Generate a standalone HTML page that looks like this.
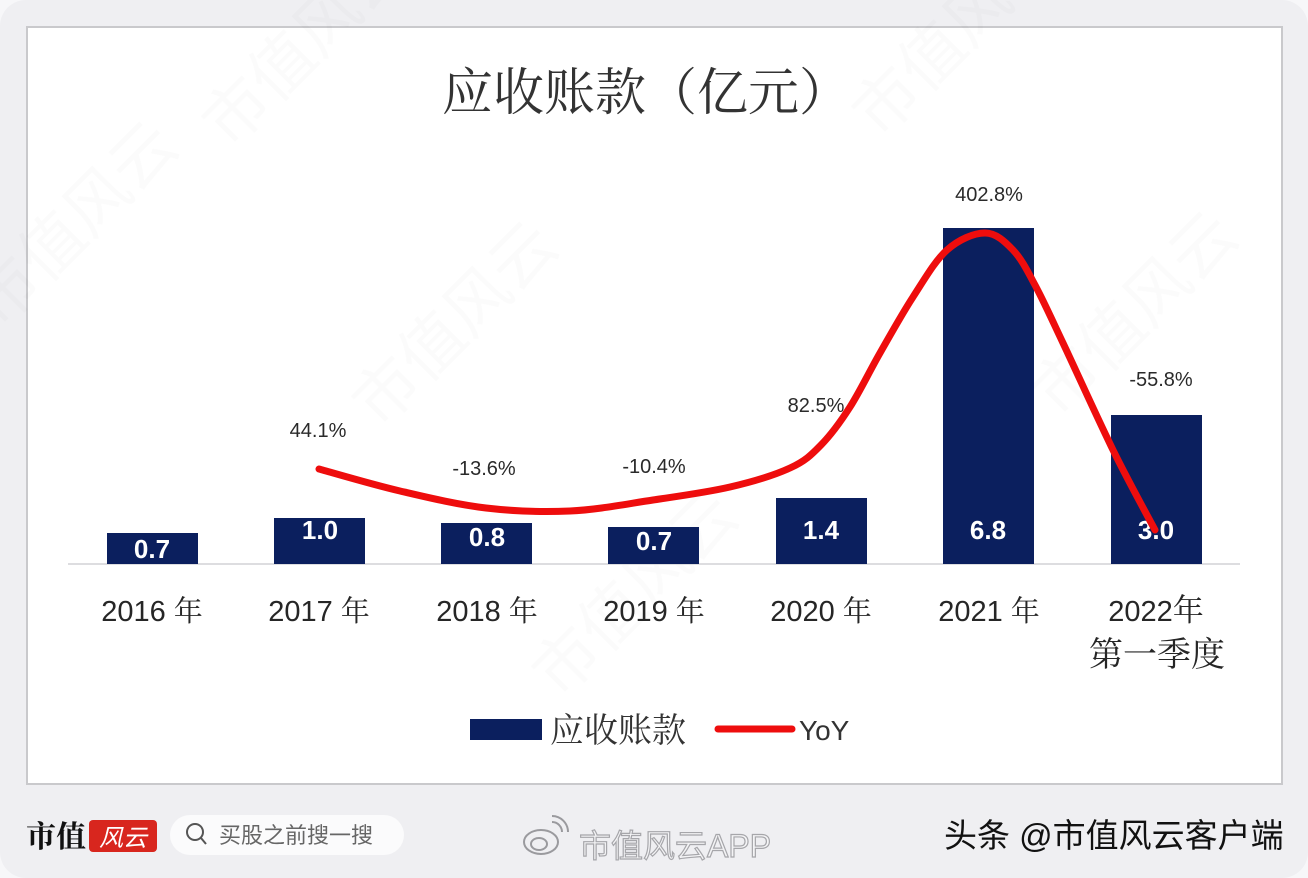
<!DOCTYPE html>
<html>
<head>
<meta charset="utf-8">
<style>
  html,body{margin:0;padding:0;background:#f4f4f6;}
  body{width:1308px;height:878px;overflow:hidden;position:relative;}
  svg{position:absolute;left:0;top:0;}
</style>
</head>
<body>
<svg width="1308" height="878" viewBox="0 0 1308 878" xmlns="http://www.w3.org/2000/svg">
  <!-- outer card -->
  <rect x="0" y="0" width="1308" height="878" fill="#f7f7f9"/>
  <rect x="0" y="0" width="1308" height="878" rx="26" ry="26" fill="#efeff2"/>
  <!-- chart panel -->
  <rect x="27" y="27" width="1255" height="757" fill="#ffffff" stroke="#c9c9cc" stroke-width="2"/>

  <!-- faint watermarks -->
  <g fill="#000" opacity="0.018" font-family="'Liberation Sans','Noto Sans CJK SC',sans-serif" font-size="64">
    <text transform="translate(230,150) rotate(-45)">市值风云</text>
    <text transform="translate(880,140) rotate(-45)">市值风云</text>
    <text transform="translate(380,430) rotate(-45)">市值风云</text>
    <text transform="translate(1060,420) rotate(-45)">市值风云</text>
    <text transform="translate(0,330) rotate(-45)">市值风云</text>
    <text transform="translate(560,700) rotate(-45)">市值风云</text>
  </g>

  <!-- title -->
  <text x="646" y="110" text-anchor="middle" font-family="'Liberation Serif','Noto Serif CJK SC',serif" font-size="51" fill="#333">应收账款（亿元）</text>

  <!-- axis line -->
  <line x1="68" y1="564" x2="1240" y2="564" stroke="#d2d2d6" stroke-width="1.6"/>

  <!-- bars -->
  <g fill="#0b1f5e">
    <rect x="107" y="533" width="91" height="31"/>
    <rect x="274" y="518" width="91" height="46"/>
    <rect x="441" y="523" width="91" height="41"/>
    <rect x="608" y="527" width="91" height="37"/>
    <rect x="776" y="498" width="91" height="66"/>
    <rect x="943" y="228" width="91" height="336"/>
    <rect x="1111" y="415" width="91" height="149"/>
  </g>

  <!-- bar values -->
  <g fill="#ffffff" font-family="'Liberation Sans',sans-serif" font-weight="bold" font-size="26" text-anchor="middle">
    <text x="152" y="558">0.7</text>
    <text x="320" y="539">1.0</text>
    <text x="487" y="546">0.8</text>
    <text x="654" y="550">0.7</text>
    <text x="821" y="539">1.4</text>
    <text x="988" y="539">6.8</text>
    <text x="1156" y="539">3.0</text>
  </g>

  <!-- YoY curve -->
  <path d="M319,469
           C332.5,472.7 372.2,484.5 400,491
           C427.8,497.5 457.7,504.7 486,508
           C514.3,511.3 542.2,512.3 570,511
           C597.8,509.7 626.3,504 653,500
           C679.7,496 707.2,492.3 730,487
           C752.8,481.7 774.8,475 790,468
           C805.2,461 811,455.2 821,445
           C831,434.8 840.2,422.3 850,407
           C859.8,391.7 869.5,371.3 880,353
           C890.5,334.7 901.8,314.2 913,297
           C924.2,279.8 935,260.7 947,250
           C959,239.3 974,233 985,233
           C996,233 1004.7,241.3 1013,250
           C1021.3,258.7 1026.7,269.5 1035,285
           C1043.3,300.5 1050,315.5 1063,343
           C1076,370.5 1097.7,418.8 1113,450
           C1128.3,481.2 1148,516.7 1155,530"
        fill="none" stroke="#ee0d0d" stroke-width="7" stroke-linecap="round" stroke-linejoin="round"/>

  <!-- YoY labels -->
  <g fill="#2a2a2a" font-family="'Liberation Sans',sans-serif" font-size="20" text-anchor="middle">
    <text x="318" y="437">44.1%</text>
    <text x="484" y="475">-13.6%</text>
    <text x="654" y="473">-10.4%</text>
    <text x="816" y="412">82.5%</text>
    <text x="989" y="201">402.8%</text>
    <text x="1161" y="386">-55.8%</text>
  </g>

  <!-- category labels -->
  <g fill="#262626" font-family="'Liberation Sans','Noto Serif CJK SC',serif" font-size="29" text-anchor="middle">
    <text x="152" y="621">2016 <tspan font-family="'Noto Serif CJK SC',serif">年</tspan></text>
    <text x="319" y="621">2017 <tspan font-family="'Noto Serif CJK SC',serif">年</tspan></text>
    <text x="487" y="621">2018 <tspan font-family="'Noto Serif CJK SC',serif">年</tspan></text>
    <text x="654" y="621">2019 <tspan font-family="'Noto Serif CJK SC',serif">年</tspan></text>
    <text x="821" y="621">2020 <tspan font-family="'Noto Serif CJK SC',serif">年</tspan></text>
    <text x="989" y="621">2021 <tspan font-family="'Noto Serif CJK SC',serif">年</tspan></text>
    <text x="1156" y="621">2022<tspan font-family="'Noto Serif CJK SC',serif" font-size="31">年</tspan></text>
    <text x="1157" y="666" font-family="'Noto Serif CJK SC',serif" font-size="34">第一季度</text>
  </g>

  <!-- legend -->
  <rect x="470" y="719" width="72" height="21" fill="#0b1f5e"/>
  <text x="550" y="742" font-family="'Liberation Serif','Noto Serif CJK SC',serif" font-size="34" fill="#333">应收账款</text>
  <line x1="718" y1="729" x2="792" y2="729" stroke="#ee0d0d" stroke-width="7" stroke-linecap="round"/>
  <text x="799" y="740" font-family="'Liberation Sans',sans-serif" font-size="28" fill="#333">YoY</text>

  <!-- footer -->
  <text x="26" y="847" font-family="'Liberation Sans','Noto Serif CJK SC',serif" font-weight="bold" font-size="30" fill="#111">市值</text>
  <rect x="89" y="820" width="68" height="32" rx="4" fill="#d8261e"/>
  <text x="123" y="846" text-anchor="middle" font-family="'Liberation Sans','Noto Sans CJK SC',sans-serif" font-style="italic" font-size="24" fill="#fff">风云</text>

  <rect x="170" y="815" width="234" height="40" rx="20" fill="#fbfbfc"/>
  <circle cx="195" cy="832" r="8" fill="none" stroke="#555" stroke-width="2"/>
  <line x1="201" y1="838" x2="206" y2="844" stroke="#555" stroke-width="2"/>
  <text x="219" y="843" font-family="'Liberation Sans','Noto Sans CJK SC',sans-serif" font-size="22" fill="#666">买股之前搜一搜</text>

  <!-- weibo icon -->
  <g fill="none" stroke="#9a9a9e" stroke-width="2">
    <ellipse cx="541" cy="842" rx="17" ry="12"/>
    <ellipse cx="539" cy="844" rx="8" ry="6"/>
    <path d="M552,822 a10,10 0 0 1 10,10"/>
    <path d="M552,816 a16,16 0 0 1 16,16"/>
  </g>
  <text x="579" y="857" font-family="'Liberation Sans','Noto Sans CJK SC',sans-serif" font-size="32" fill="#f4f4f6" stroke="#a6a6aa" stroke-width="1.2">市值风云APP</text>

  <text x="944" y="847" font-family="'Liberation Sans','Noto Sans CJK SC',sans-serif" font-size="33" fill="#111">头条 @市值风云客户端</text>
</svg>
</body>
</html>
